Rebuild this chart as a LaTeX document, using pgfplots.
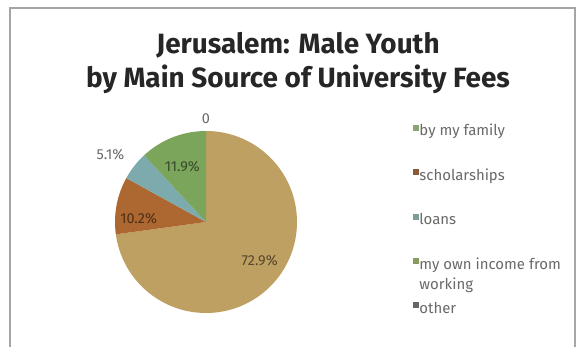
\documentclass[border=0pt]{standalone}
\usepackage{fontspec}
\setmainfont{Fira Sans}
\usepackage{pgfplots}
\usepackage{pgfplotstable}
\pgfplotsset{compat=1.18}
\definecolor{ctan}{RGB}{190,160,98}
\definecolor{cbrown}{RGB}{172,104,48}
\definecolor{cteal}{RGB}{125,170,172}
\definecolor{cgreen}{RGB}{124,165,92}
\definecolor{lfam}{RGB}{140,165,120}
\definecolor{lsch}{RGB}{140,90,55}
\definecolor{lloan}{RGB}{125,155,152}
\definecolor{linc}{RGB}{135,155,90}
\definecolor{loth}{RGB}{100,100,105}
\definecolor{framec}{RGB}{165,165,165}
\definecolor{txt}{RGB}{105,105,105}

\pgfplotstableread{
source value
family 72.9
scholarships 10.2
loans 5.1
income 11.9
other 0
}\piedata

\begin{document}
\begin{tikzpicture}
\useasboundingbox (0,0) rectangle (579bp,347bp);
\fill[white] (0,0) rectangle (579bp,347bp);
\draw[framec, line width=1.6bp] (10bp,-3bp) -- (10bp,339bp) -- (575bp,339bp) -- (575bp,-3bp);
\pgfplotstablegetelem{0}{value}\of\piedata \edef\va{\pgfplotsretval}
\pgfplotstablegetelem{1}{value}\of\piedata \edef\vb{\pgfplotsretval}
\pgfplotstablegetelem{2}{value}\of\piedata \edef\vc{\pgfplotsretval}
\pgfplotstablegetelem{3}{value}\of\piedata \edef\vd{\pgfplotsretval}
\pgfplotstablegetelem{4}{value}\of\piedata \edef\ve{\pgfplotsretval}
\pgfmathsetmacro\total{\va+\vb+\vc+\vd+\ve}
\pgfmathsetmacro\aA{90}
\pgfmathsetmacro\aB{\aA-360*(\va/\total)}
\pgfmathsetmacro\aC{\aB-360*(\vb/\total)}
\pgfmathsetmacro\aD{\aC-360*(\vc/\total)}
\pgfmathsetmacro\aE{\aD-360*(\vd/\total)}
\node[font=\bfseries\fontsize{28}{32}\selectfont, text=black!85] at (298bp,302bp) {Jerusalem: Male Youth};
\node[font=\bfseries\fontsize{28}{32}\selectfont, text=black!85] at (298bp,268bp) {by Main Source of University Fees};
\begin{axis}[at={(206bp,125bp)}, anchor=center, x=91bp, y=91bp,
  xmin=-1.05, xmax=1.05, ymin=-1.05, ymax=1.05, hide axis, clip=false,
  legend style={at={(axis cs:2.24,1.12)}, anchor=north west, draw=none, fill=none,
    font=\fontsize{15}{18}\selectfont, text=txt, row sep=27.5bp,
    nodes={inner xsep=1bp}},
  legend cell align=left]
\addlegendimage{legend image code/.code={\fill[lfam] (0bp,1bp) rectangle (5bp,6bp);}}
\addlegendentry{by my family}
\addlegendimage{legend image code/.code={\fill[lsch] (0bp,1bp) rectangle (5bp,6bp);}}
\addlegendentry{scholarships}
\addlegendimage{legend image code/.code={\fill[lloan] (0bp,1bp) rectangle (5bp,6bp);}}
\addlegendentry{loans}
\addlegendimage{legend image code/.code={\fill[linc] (0bp,1bp) rectangle (5bp,6bp);}}
\addlegendentry{\rlap{\raisebox{-20bp}[0pt][0pt]{working}}my own income from}
\addlegendimage{legend image code/.code={\fill[loth] (0bp,1bp) rectangle (5bp,6bp);}}
\addlegendentry{other}
\fill[ctan] (axis cs:0,0) -- (axis cs:{cos(\aA)},{sin(\aA)}) arc[start angle=\aA, end angle=\aB, radius=91bp] -- cycle;
\fill[cbrown] (axis cs:0,0) -- (axis cs:{cos(\aB)},{sin(\aB)}) arc[start angle=\aB, end angle=\aC, radius=91bp] -- cycle;
\fill[cteal] (axis cs:0,0) -- (axis cs:{cos(\aC)},{sin(\aC)}) arc[start angle=\aC, end angle=\aD, radius=91bp] -- cycle;
\fill[cgreen] (axis cs:0,0) -- (axis cs:{cos(\aD)},{sin(\aD)}) arc[start angle=\aD, end angle=\aE, radius=91bp] -- cycle;
\node[font=\fontsize{14.5}{16}\selectfont, text=black!55!ctan] at (axis cs:0.59,-0.42) {72.9\%};
\node[font=\fontsize{14.5}{16}\selectfont, text=black!55!cbrown] at (axis cs:-0.74,0.04) {10.2\%};
\node[font=\fontsize{14.5}{16}\selectfont, text=black!55!cgreen] at (axis cs:-0.26,0.61) {11.9\%};
\node[font=\fontsize{14.5}{16}\selectfont, text=txt] at (axis cs:-1.05,0.74) {5.1\%};
\node[font=\fontsize{14.5}{16}\selectfont, text=txt] at (axis cs:0.0,1.14) {0};
\end{axis}
\end{tikzpicture}
\end{document}
